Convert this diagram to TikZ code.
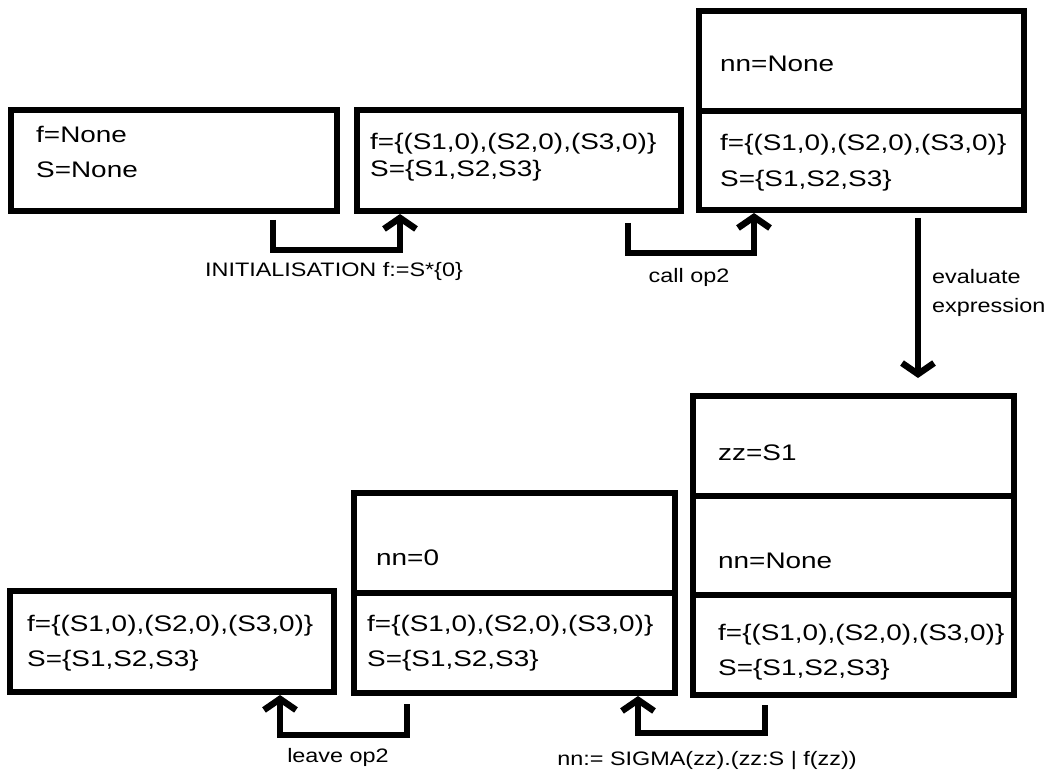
\documentclass[tikz,border=0pt]{standalone}
\usepackage{fontspec}
\setmainfont{Liberation Sans}[FakeStretch=1.24]
\newfontfamily\lblfont{Liberation Sans}[FakeStretch=1.2]
\usetikzlibrary{arrows.meta}
\begin{document}
\begin{tikzpicture}[x=1pt,y=-1pt,
  sec/.style={draw, line width=6pt, anchor=north west, inner sep=0pt},
  boxtxt/.style={font=\fontsize{22.5}{26}\selectfont, anchor=base west, inner sep=0pt},
  lbl/.style={font=\lblfont\fontsize{19.5}{22}\selectfont, inner sep=0pt},
  arr/.style={line width=6.5pt, -{Straight Barb[length=11pt,width=32pt]}}]
\useasboundingbox (0,0) rectangle (1050,778);
% boxes
\node[sec, minimum width=326pt, minimum height=101pt] (A) at (8,107) {};
\node[sec, minimum width=324pt, minimum height=101pt] (B) at (354,107) {};
\node[sec, minimum width=325pt, minimum height=100pt] (C1) at (696,8) {};
\node[sec, minimum width=325pt, minimum height=99pt] (C2) at (696,108) {};
\node[sec, minimum width=321pt, minimum height=100pt] (D1) at (690,393) {};
\node[sec, minimum width=321pt, minimum height=99pt] (D2) at (690,493) {};
\node[sec, minimum width=321pt, minimum height=100pt] (D3) at (690,592) {};
\node[sec, minimum width=321pt, minimum height=100pt] (E1) at (351,490) {};
\node[sec, minimum width=321pt, minimum height=100pt] (E2) at (351,590) {};
\node[sec, minimum width=324pt, minimum height=101pt] (F) at (7,588) {};
% texts
\node[boxtxt] (ta1) at (36,143) {f=None};
\node[boxtxt] (ta2) at (36,178) {S=None};
\node[boxtxt] (tb1) at (370,150) {f=\{(S1,0),(S2,0),(S3,0)\}};
\node[boxtxt] (tb2) at (370,177) {S=\{S1,S2,S3\}};
\node[boxtxt] (tc0) at (720,72) {nn=None};
\node[boxtxt] (tc1) at (720,151) {f=\{(S1,0),(S2,0),(S3,0)\}};
\node[boxtxt] (tc2) at (720,187) {S=\{S1,S2,S3\}};
\node[boxtxt] (td0) at (718,460) {zz=S1};
\node[boxtxt] (td1) at (718,568) {nn=None};
\node[boxtxt] (td2) at (718,640) {f=\{(S1,0),(S2,0),(S3,0)\}};
\node[boxtxt] (td3) at (718,675) {S=\{S1,S2,S3\}};
\node[boxtxt] (te0) at (376,565) {nn=0};
\node[boxtxt] (te1) at (367,631) {f=\{(S1,0),(S2,0),(S3,0)\}};
\node[boxtxt] (te2) at (367,666) {S=\{S1,S2,S3\}};
\node[boxtxt] (tf1) at (27,631) {f=\{(S1,0),(S2,0),(S3,0)\}};
\node[boxtxt] (tf2) at (27,666) {S=\{S1,S2,S3\}};
% connectors
\draw[arr] ([xshift=265pt,yshift=-6pt]A.south west) -- ++(0,30) -| ([xshift=46pt]B.south west);
\draw[arr] ([xshift=274pt,yshift=-9pt]B.south west) -- ++(0,30) -| ([xshift=58pt]C2.south west);
\draw[arr] ([xshift=222pt,yshift=-5pt]C2.south west) -- ([xshift=228pt,yshift=15pt]D1.north west);
\draw[arr] ([xshift=56pt,yshift=-8pt]E2.south west) -- ++(0,31) -| ([xshift=273pt]F.south west);
\draw[arr] ([xshift=75pt,yshift=-7pt]D3.south west) -- ++(0,28) -| ([xshift=287pt]E2.south west);
% labels
\node[lbl] (l1) at (334,271) {INITIALISATION f:=S*\{0\}};
\node[lbl] (l2) at (689,277) {call op2};
\node[lbl, anchor=west] (l3) at (932,277) {evaluate};
\node[lbl, anchor=west] (l4) at (932,307) {expression};
\node[lbl] (l5) at (338,757) {leave op2};
\node[lbl] (l6) at (707,760) {nn:= SIGMA(zz).(zz:S | f(zz))};
\end{tikzpicture}
\end{document}
